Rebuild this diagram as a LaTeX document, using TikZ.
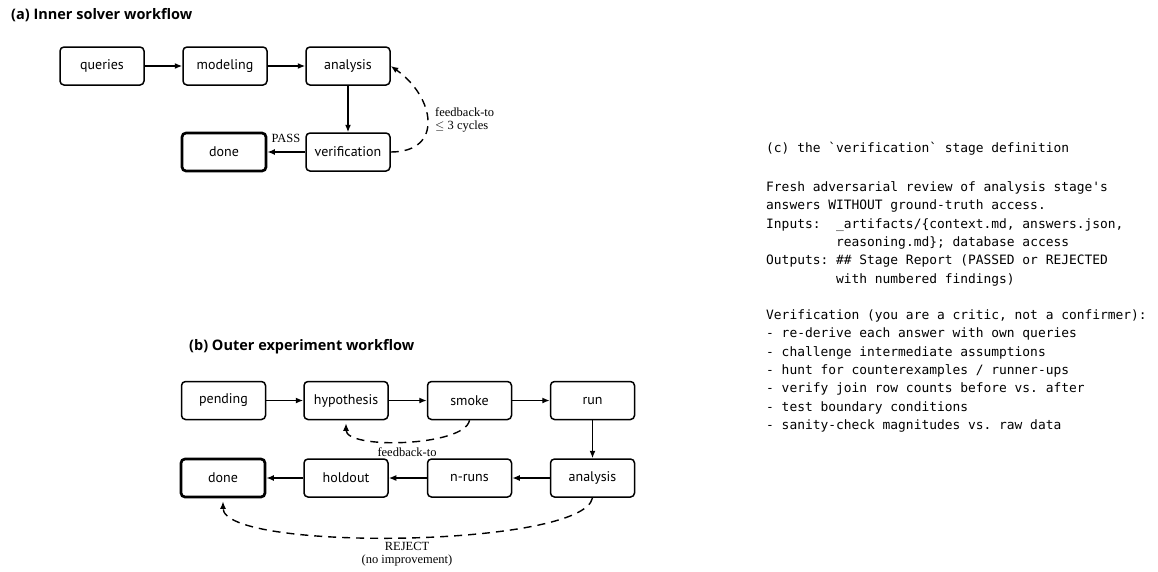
\documentclass[tikz,border=0pt]{standalone}
\usepackage{fontspec}
\setmainfont{Liberation Serif}
\setsansfont{PT Sans}
\setmonofont{DejaVu Sans Mono}
\newfontfamily\titlefont{Open Sans}
\usetikzlibrary{arrows.meta}
\tikzset{
  box/.style={draw, rounded corners=4pt, line width=1.5pt, minimum width=84pt, minimum height=38pt, inner sep=0pt, font=\sffamily\fontsize{14}{16}\selectfont},
  donebox/.style={box, line width=2.7pt},
  arr/.style={-{Latex[length=7.5pt,width=6pt]}, line width=1.4pt},
  dasharr/.style={arr, dash pattern=on 8pt off 6pt},
  lbl/.style={font=\rmfamily\fontsize{12.5}{13}\selectfont, inner sep=1pt},
  ttl/.style={font=\titlefont\bfseries\fontsize{14.5}{16}\selectfont, inner sep=0pt, anchor=west},
  mono/.style={font=\ttfamily\fontsize{12.9}{18.3}\selectfont, inner sep=0pt, anchor=base west}
}
\begin{document}
\begin{tikzpicture}[x=1pt,y=-1pt]
\useasboundingbox[fill=white] (0,0) rectangle (1158,571);
% (a)
\node[ttl] (ta) at (11,15) {(a) Inner solver workflow};
\node[box] (q) at (102,66) {queries};
\node[box] (m) at (225,66) {modeling};
\node[box] (an) at (348,66) {analysis};
\node[box] (v) at (348,152) {verification};
\node[donebox] (d) at (224,152) {done};
\draw[arr] (q) -- (m);
\draw[arr] (m) -- (an);
\draw[arr] (an) -- (v);
\draw[arr] (v) -- (d);
\node[lbl] (pass) at (286,138) {PASS};
\draw[dasharr] (v.east) to[out=0,in=-35,looseness=1.6] (an.east);
\node[lbl, anchor=west, align=left] (fb) at (434,120) {feedback-to\\$\leq$ 3 cycles};
% (b)
\node[ttl] (tb) at (189,347) {(b) Outer experiment workflow};
\node[box] (p) at (223.5,400.5) {pending};
\node[box] (h) at (346,400.5) {hypothesis};
\node[box] (s) at (469.5,400.5) {smoke};
\node[box] (r) at (592.5,400.5) {run};
\node[donebox] (d2) at (223,478) {done};
\node[box] (ho) at (346,478) {holdout};
\node[box] (n) at (469.5,478) {n-runs};
\node[box] (a2) at (592.5,478) {analysis};
\draw[arr] (p) -- (h);
\draw[arr] (h) -- (s);
\draw[arr] (s) -- (r);
\draw[arr] (r) -- (a2);
\draw[arr] (a2) -- (n);
\draw[arr] (n) -- (ho);
\draw[arr] (ho) -- (d2);
\draw[dasharr] (s.south) to[out=-100,in=-90,looseness=0.55] ([yshift=-3pt]h.south);
\node[lbl] (fb2) at (407,452) {feedback-to};
\draw[dasharr] (a2.south) to[out=-100,in=-90,looseness=0.35] ([yshift=-3pt]d2.south);
\node[lbl, align=center] (rej) at (407,554) {REJECT\\(no improvement)};
% (c)
\node[mono] (c0) at (766,152.5) {(c) the `verification` stage definition};
\node[mono] (c1) at (766,191.5) {Fresh adversarial review of analysis stage's};
\node[mono] (c2) at (766,209.8) {answers WITHOUT ground-truth access.};
\node[mono] (c3) at (766,228.1) {Inputs:\ \ \_artifacts/\{context.md, answers.json,};
\node[mono] (c4) at (766,246.4) {\phantom{Outputs:\ }reasoning.md\}; database access};
\node[mono] (c5) at (766,264.7) {Outputs: \#\# Stage Report (PASSED or REJECTED};
\node[mono] (c6) at (766,283.0) {\phantom{Outputs:\ }with numbered findings)};
\node[mono] (c7) at (766,319.6) {Verification (you are a critic, not a confirmer):};
\node[mono] (c8) at (766,337.9) {- re-derive each answer with own queries};
\node[mono] (c9) at (766,356.2) {- challenge intermediate assumptions};
\node[mono] (c10) at (766,374.5) {- hunt for counterexamples / runner-ups};
\node[mono] (c11) at (766,392.8) {- verify join row counts before vs. after};
\node[mono] (c12) at (766,411.1) {- test boundary conditions};
\node[mono] (c13) at (766,429.4) {- sanity-check magnitudes vs. raw data};
\end{tikzpicture}
\end{document}
